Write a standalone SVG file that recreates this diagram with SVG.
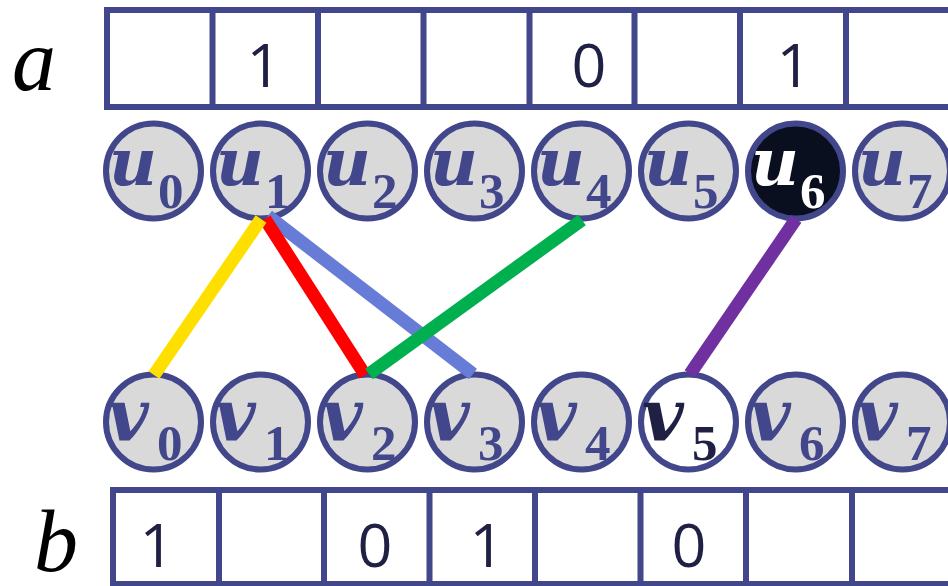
<svg xmlns="http://www.w3.org/2000/svg" width="948" height="586" viewBox="0 0 948 586">
<style>
.grid{fill:none;stroke:#42468a;stroke-width:6}
.digit{font-family:"Open Sans","Noto Sans",sans-serif;font-size:61px;fill:#1f2044;text-anchor:middle}
.arr{font-family:"Liberation Serif",serif;font-style:italic;font-size:88px;fill:#000}
.node{fill:#d9d9d9;stroke:#42468a;stroke-width:6}
.lu{font-family:"DejaVu Serif",serif;font-weight:bold;font-style:italic;font-size:66px;fill:#42468a}
.lv{font-family:"DejaVu Serif",serif;font-weight:bold;font-style:italic;font-size:72px;fill:#42468a}
.sub{font-family:"Liberation Serif",serif;font-weight:bold;font-size:51px;fill:#42468a}
line.edge{stroke-width:13px;stroke-linecap:butt;fill:none}
</style>
<rect width="948" height="586" fill="#fff"/>
<g id="array-a">
<text class="arr" x="12" y="90">a</text>
<path class="grid" d="M960 10H107V107H960M212.5 10V107M318 10V107M423.5 10V107M529.5 10V107M634.5 10V107M740 10V107M846 10V107"/>
<text class="digit" x="264" y="87">1</text>
<text class="digit" x="589" y="87">0</text>
<text class="digit" x="794" y="87">1</text>
</g>
<g id="array-b">
<text class="arr" x="34" y="571">b</text>
<path class="grid" d="M960 490H113V584H960M219 490V584M324 490V584M429.5 490V584M535 490V584M640.5 490V584M746 490V584M852 490V584"/>
<text class="digit" x="157" y="567">1</text>
<text class="digit" x="375" y="567">0</text>
<text class="digit" x="487" y="567">1</text>
<text class="digit" x="689" y="567">0</text>
</g>
<g id="u0"><circle class="node" cx="153.5" cy="171" r="47.5"/><text class="lu" x="109" y="185">u</text><text class="sub" x="158" y="208">0</text></g>
<g id="u1"><circle class="node" cx="260.5" cy="171" r="47.5"/><text class="lu" x="216" y="185">u</text><text class="sub" x="265" y="208">1</text></g>
<g id="u2"><circle class="node" cx="367.5" cy="171" r="47.5"/><text class="lu" x="323" y="185">u</text><text class="sub" x="372" y="208">2</text></g>
<g id="u3"><circle class="node" cx="474.5" cy="171" r="47.5"/><text class="lu" x="430" y="185">u</text><text class="sub" x="479" y="208">3</text></g>
<g id="u4"><circle class="node" cx="581.5" cy="171" r="47.5"/><text class="lu" x="537" y="185">u</text><text class="sub" x="586" y="208">4</text></g>
<g id="u5"><circle class="node" cx="688.5" cy="171" r="47.5"/><text class="lu" x="644" y="185">u</text><text class="sub" x="693" y="208">5</text></g>
<g id="u6"><circle class="node" cx="795.5" cy="171" r="47.5" style="fill:#0a0f20"/><text class="lu" x="751" y="185" style="fill:#fff">u</text><text class="sub" x="800" y="208" style="fill:#fff">6</text></g>
<g id="u7"><circle class="node" cx="902.5" cy="171" r="47.5"/><text class="lu" x="858" y="185">u</text><text class="sub" x="907" y="208">7</text></g>
<g id="v0"><circle class="node" cx="153.5" cy="422" r="47.5"/><text class="lv" x="107" y="441">v</text><text class="sub" x="157" y="460">0</text></g>
<g id="v1"><circle class="node" cx="260.5" cy="422" r="47.5"/><text class="lv" x="214" y="441">v</text><text class="sub" x="264" y="460">1</text></g>
<g id="v2"><circle class="node" cx="367.5" cy="422" r="47.5"/><text class="lv" x="321" y="441">v</text><text class="sub" x="371" y="460">2</text></g>
<g id="v3"><circle class="node" cx="474.5" cy="422" r="47.5"/><text class="lv" x="428" y="441">v</text><text class="sub" x="478" y="460">3</text></g>
<g id="v4"><circle class="node" cx="581.5" cy="422" r="47.5"/><text class="lv" x="535" y="441">v</text><text class="sub" x="585" y="460">4</text></g>
<g id="v5"><circle class="node" cx="688.5" cy="422" r="47.5" style="fill:#fff"/><text class="lv" x="642" y="441" style="fill:#1f2044">v</text><text class="sub" x="692" y="460" style="fill:#1f2044">5</text></g>
<g id="v6"><circle class="node" cx="795.5" cy="422" r="47.5"/><text class="lv" x="749" y="441">v</text><text class="sub" x="799" y="460">6</text></g>
<g id="v7"><circle class="node" cx="902.5" cy="422" r="47.5"/><text class="lv" x="856" y="441">v</text><text class="sub" x="906" y="460">7</text></g>
<g id="connectors">
<line class="edge" x1="268" y1="216" x2="473" y2="374" stroke="#677cd6"/>
<line class="edge" x1="265" y1="219" x2="365" y2="375" stroke="#ff0000"/>
<line class="edge" x1="261" y1="219" x2="154" y2="375" stroke="#ffdf00"/>
<line class="edge" x1="582" y1="220" x2="369" y2="374" stroke="#00b04f"/>
<line class="edge" x1="796" y1="219" x2="690" y2="374" stroke="#7030a0"/>
</g>
</svg>
